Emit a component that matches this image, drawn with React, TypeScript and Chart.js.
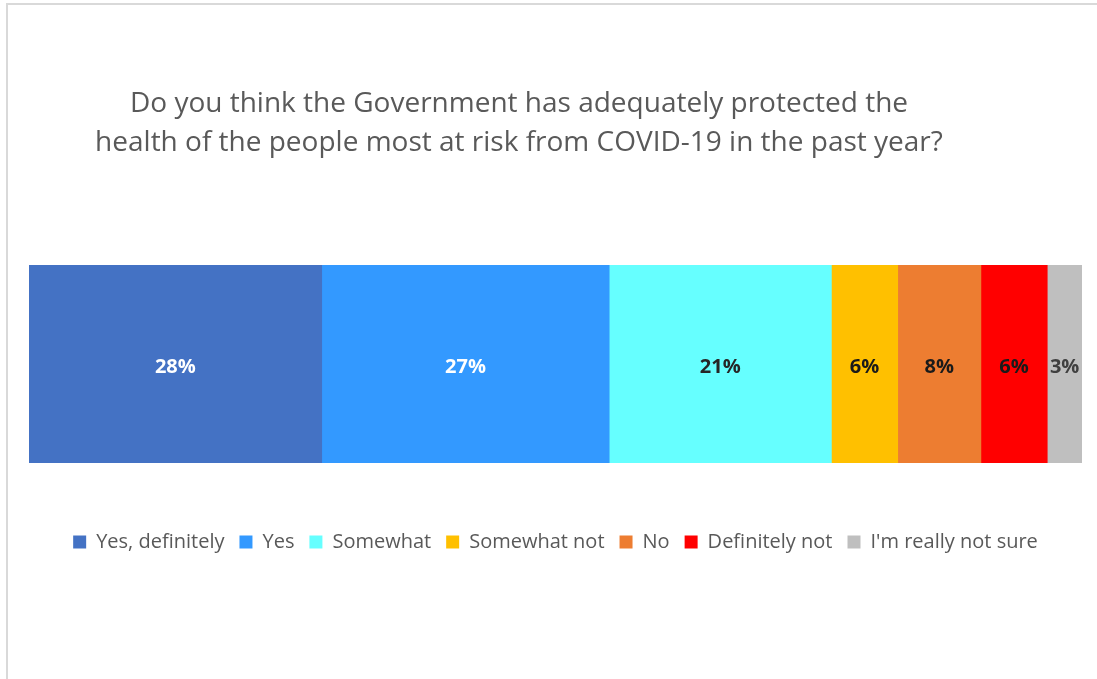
import React, { useEffect, useRef } from "react";
import { Chart, registerables } from "chart.js";

Chart.register(...registerables);

const categories = ["Response"];
const seriesNames = [
  "Yes, definitely",
  "Yes",
  "Somewhat",
  "Somewhat not",
  "No",
  "Definitely not",
  "I'm really not sure",
];
const seriesValues = [27.8, 27.3, 21.1, 6.3, 7.9, 6.3, 3.3];
const seriesColors = ["#4472C4", "#3399FF", "#66FFFF", "#FFC000", "#ED7D31", "#FF0000", "#BFBFBF"];
const labelColors = ["#FFFFFF", "#FFFFFF", "#262626", "#1A1A1A", "#1A1A1A", "#1A1A1A", "#404040"];
const titleLines = [
  "Do you think the Government has adequately protected the",
  "health of the people most at risk from COVID-19 in the past year?",
];

const FONT = "'Open Sans', 'Noto Sans', sans-serif";

const titlePlugin = {
  id: "manualTitle",
  afterDraw(chart: any) {
    const ctx = chart.ctx;
    ctx.save();
    ctx.fillStyle = "#595959";
    ctx.font = `28px ${FONT}`;
    ctx.textAlign = "center";
    ctx.textBaseline = "alphabetic";
    ctx.fillText(titleLines[0], 511, 112);
    ctx.fillText(titleLines[1], 511, 151);
    ctx.restore();
  },
};

const labelPlugin = {
  id: "barLabels",
  afterDatasetsDraw(chart: any) {
    const ctx = chart.ctx;
    ctx.save();
    ctx.font = `bold 20px ${FONT}`;
    ctx.textAlign = "center";
    ctx.textBaseline = "middle";
    chart.data.datasets.forEach((ds: any, i: number) => {
      const meta = chart.getDatasetMeta(i);
      meta.data.forEach((el: any, j: number) => {
        const p = el.getCenterPoint();
        ctx.fillStyle = labelColors[i];
        ctx.fillText(Math.round(ds.data[j]) + "%", p.x, p.y + 3);
      });
    });
    ctx.restore();
  },
};

export default function App() {
  const ref = useRef<HTMLCanvasElement>(null);
  useEffect(() => {
    Chart.defaults.font.family = FONT;
    const chart = new Chart(ref.current!, {
      type: "bar",
      data: {
        labels: categories,
        datasets: seriesNames.map((name, i) => ({
          label: name,
          data: [seriesValues[i]],
          backgroundColor: seriesColors[i],
          borderWidth: 0,
          barPercentage: 1,
          categoryPercentage: 1,
        })),
      },
      options: {
        indexAxis: "y",
        animation: false,
        responsive: false,
        maintainAspectRatio: false,
        layout: { padding: { top: 265, left: 21, right: 22, bottom: 117 } },
        scales: {
          x: {
            stacked: true,
            min: 0,
            max: 100,
            display: true,
            grid: { display: false, drawTicks: false },
            border: { display: false },
            ticks: { display: false },
            afterFit: (scale: any) => {
              scale.height = 54;
            },
          },
          y: { stacked: true, display: false },
        },
        plugins: {
          legend: {
            position: "bottom",
            labels: {
              boxWidth: 13,
              boxHeight: 13,
              padding: 15,
              color: "#595959",
              font: { size: 20, family: FONT },
            },
          },
          tooltip: { enabled: false },
          title: { display: false },
        },
      },
      plugins: [titlePlugin, labelPlugin],
    } as any);
    return () => chart.destroy();
  }, []);

  return (
    <div
      style={{
        position: "fixed",
        left: 0,
        top: 0,
        width: 1097,
        height: 679,
        overflow: "hidden",
        background: "#fff",
      }}
    >
      <div
        style={{
          position: "absolute",
          left: 6,
          top: 3,
          width: 1120,
          height: 700,
          border: "2px solid #d9d9d9",
          boxSizing: "border-box",
        }}
      />
      <canvas
        ref={ref}
        width={1096}
        height={679}
        style={{ position: "absolute", left: 8, top: 0, width: 1096, height: 679 }}
      />
    </div>
  );
}
